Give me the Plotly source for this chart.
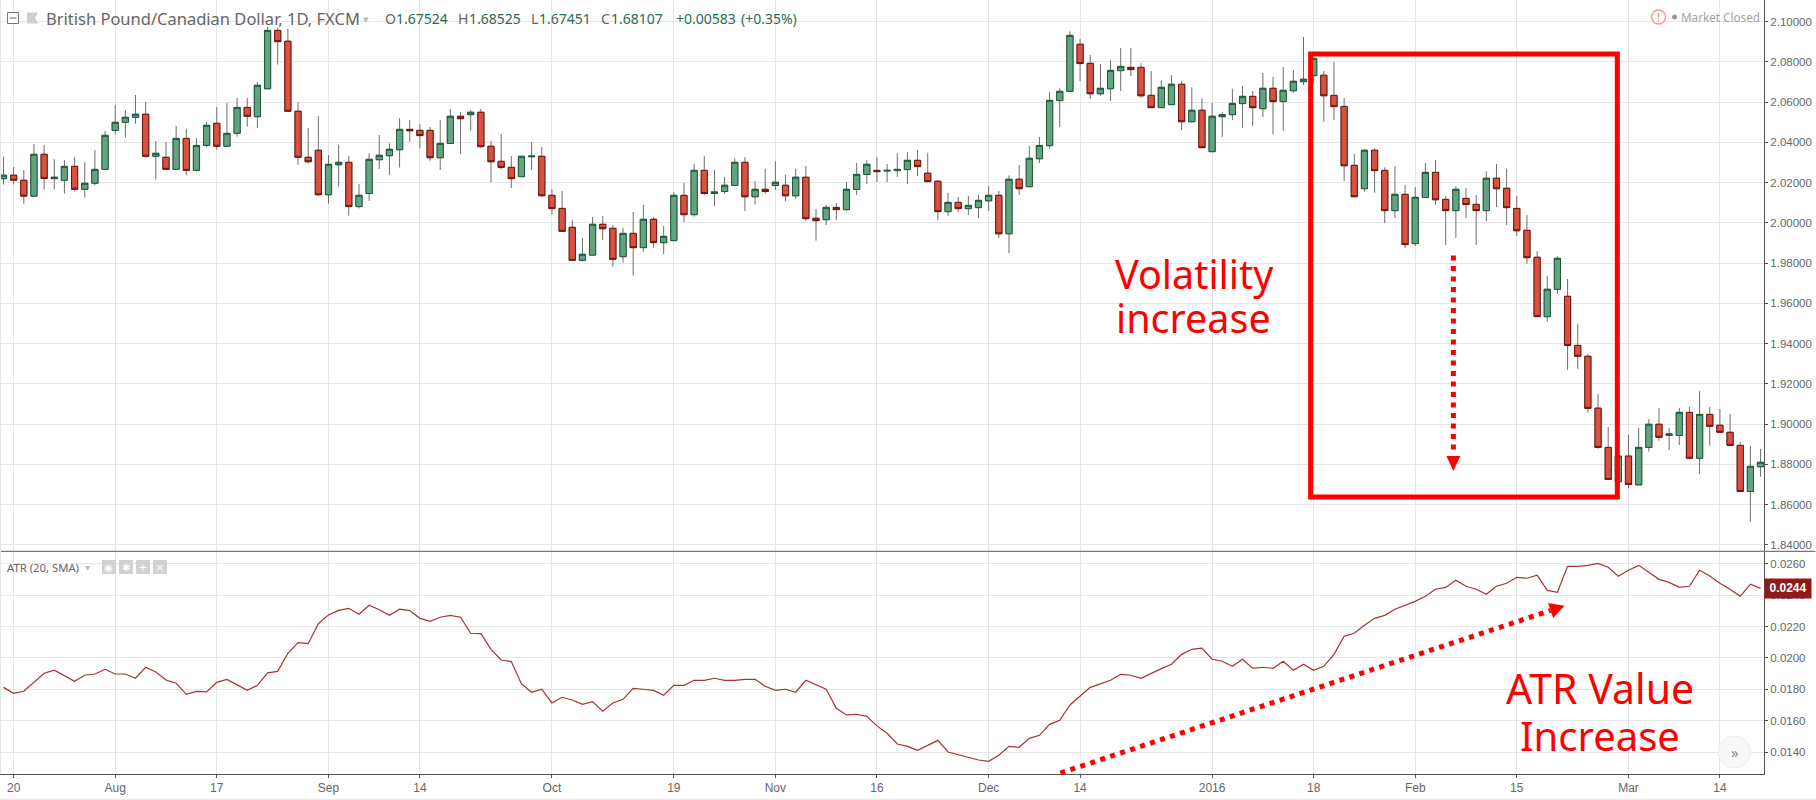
import plotly.graph_objects as go

# one entry per daily candle (left to right)
opens = [
    2.0220, 2.0237, 2.0212, 2.0133, 2.0341, 2.0220, 2.0212, 2.0281, 2.0167, 2.0197,
    2.0266, 2.0460, 2.0500, 2.0525, 2.0540, 2.0331, 2.0326, 2.0266, 2.0420, 2.0261,
    2.0385, 2.0495, 2.0381, 2.0445, 2.0574, 2.0528, 2.0667, 2.0957, 2.0903, 2.0555,
    2.0326, 2.0361, 2.0140, 2.0289, 2.0301, 2.0081, 2.0146, 2.0314, 2.0334, 2.0364,
    2.0465, 2.0460, 2.0460, 2.0324, 2.0395, 2.0530, 2.0538, 2.0550, 2.0381, 2.0306,
    2.0276, 2.0230, 2.0329, 2.0331, 2.0137, 2.0072, 1.9978, 1.9814, 1.9840, 1.9993,
    1.9973, 1.9832, 1.9948, 1.9877, 2.0018, 1.9902, 1.9912, 2.0137, 2.0041, 2.0261,
    2.0146, 2.0156, 2.0186, 2.0301, 2.0130, 2.0167, 2.0186, 2.0187, 2.0135, 2.0227,
    2.0023, 2.0016, 2.0077, 2.0066, 2.0166, 2.0241, 2.0261, 2.0258, 2.0260, 2.0265,
    2.0311, 2.0247, 2.0207, 2.0056, 2.0102, 2.0071, 2.0076, 2.0110, 2.0137, 1.9946,
    2.0217, 2.0180, 2.0319, 2.0384, 2.0608, 2.0654, 2.0888, 2.0793, 2.0642, 2.0667,
    2.0757, 2.0773, 2.0773, 2.0634, 2.0573, 2.0588, 2.0689, 2.0503, 2.0560, 2.0354,
    2.0528, 2.0538, 2.0593, 2.0629, 2.0568, 2.0669, 2.0603, 2.0657, 2.0702, 2.0732,
    2.0734, 2.0634, 2.0579, 2.0286, 2.0170, 2.0361, 2.0261, 2.0061, 2.0142, 1.9897,
    2.0126, 2.0251, 2.0117, 2.0061, 2.0122, 2.0092, 2.0061, 2.0222, 2.0172, 2.0072,
    1.9963, 1.9829, 1.9534, 1.9670, 1.9635, 1.9391, 1.9337, 1.9079, 1.8884, 1.8713,
    1.8841, 1.8698, 1.8884, 1.8999, 1.8944, 1.8944, 1.9058, 1.8830, 1.9048, 1.8994,
    1.8959, 1.8894, 1.8665, 1.8788,
]
highs = [
    2.0329, 2.0278, 2.0263, 2.0392, 2.0387, 2.0317, 2.0312, 2.0327, 2.0302, 2.0362,
    2.0457, 2.0586, 2.0561, 2.0636, 2.0601, 2.0407, 2.0402, 2.0482, 2.0467, 2.0422,
    2.0502, 2.0576, 2.0596, 2.0621, 2.0621, 2.0700, 2.0975, 2.0972, 2.0964, 2.0599,
    2.0472, 2.0531, 2.0337, 2.0387, 2.0332, 2.0193, 2.0346, 2.0437, 2.0395, 2.0521,
    2.0511, 2.0492, 2.0477, 2.0511, 2.0566, 2.0551, 2.0560, 2.0566, 2.0407, 2.0442,
    2.0332, 2.0331, 2.0402, 2.0377, 2.0168, 2.0159, 2.0014, 1.9925, 2.0029, 2.0034,
    1.9989, 1.9975, 2.0054, 2.0089, 2.0029, 1.9985, 2.0154, 2.0198, 2.0293, 2.0332,
    2.0263, 2.0228, 2.0321, 2.0327, 2.0208, 2.0268, 2.0306, 2.0238, 2.0268, 2.0283,
    2.0069, 2.0089, 2.0099, 2.0203, 2.0298, 2.0312, 2.0327, 2.0293, 2.0346, 2.0352,
    2.0362, 2.0347, 2.0213, 2.0149, 2.0129, 2.0134, 2.0139, 2.0183, 2.0159, 2.0236,
    2.0288, 2.0382, 2.0427, 2.0651, 2.0669, 2.0952, 2.0914, 2.0835, 2.0790, 2.0808,
    2.0869, 2.0869, 2.0793, 2.0755, 2.0709, 2.0734, 2.0704, 2.0674, 2.0619, 2.0596,
    2.0550, 2.0666, 2.0681, 2.0656, 2.0745, 2.0725, 2.0775, 2.0760, 2.0924, 2.0818,
    2.0755, 2.0800, 2.0621, 2.0342, 2.0366, 2.0371, 2.0276, 2.0283, 2.0188, 2.0178,
    2.0298, 2.0312, 2.0132, 2.0183, 2.0173, 2.0139, 2.0256, 2.0293, 2.0268, 2.0134,
    2.0039, 1.9860, 1.9736, 1.9835, 1.9721, 1.9497, 1.9347, 1.9149, 1.8985, 1.8850,
    1.8947, 1.8980, 1.9025, 1.9080, 1.8980, 1.9080, 1.9085, 1.9164, 1.9085, 1.9075,
    1.9050, 1.8911, 1.8891, 1.8876,
]
lows = [
    2.0191, 2.0191, 2.0096, 2.0133, 2.0166, 2.0166, 2.0146, 2.0156, 2.0126, 2.0186,
    2.0266, 2.0438, 2.0423, 2.0493, 2.0324, 2.0215, 2.0266, 2.0266, 2.0237, 2.0256,
    2.0376, 2.0364, 2.0381, 2.0429, 2.0478, 2.0472, 2.0664, 2.0787, 2.0555, 2.0289,
    2.0294, 2.0135, 2.0096, 2.0180, 2.0036, 2.0072, 2.0109, 2.0268, 2.0238, 2.0275,
    2.0402, 2.0369, 2.0309, 2.0263, 2.0395, 2.0342, 2.0458, 2.0374, 2.0203, 2.0265,
    2.0173, 2.0230, 2.0263, 2.0130, 2.0044, 1.9958, 1.9814, 1.9807, 1.9837, 1.9915,
    1.9782, 1.9802, 1.9738, 1.9857, 1.9877, 1.9845, 1.9912, 2.0004, 2.0031, 2.0139,
    2.0084, 2.0144, 2.0186, 2.0059, 2.0091, 2.0144, 2.0164, 2.0109, 2.0119, 2.0011,
    1.9912, 1.9989, 2.0014, 2.0061, 2.0139, 2.0193, 2.0203, 2.0203, 2.0228, 2.0193,
    2.0233, 2.0205, 2.0014, 2.0034, 2.0054, 2.0039, 2.0024, 2.0059, 1.9925, 1.9850,
    2.0139, 2.0180, 2.0298, 2.0369, 2.0477, 2.0654, 2.0705, 2.0616, 2.0631, 2.0606,
    2.0656, 2.0730, 2.0622, 2.0573, 2.0573, 2.0588, 2.0462, 2.0498, 2.0374, 2.0354,
    2.0427, 2.0511, 2.0472, 2.0482, 2.0526, 2.0442, 2.0457, 2.0647, 2.0685, 2.0694,
    2.0502, 2.0511, 2.0208, 2.0130, 2.0156, 2.0150, 1.9999, 2.0024, 1.9875, 1.9885,
    2.0126, 2.0091, 1.9890, 1.9925, 2.0024, 1.9890, 2.0009, 2.0079, 1.9989, 1.9935,
    1.9797, 1.9534, 1.9509, 1.9647, 1.9269, 1.9274, 1.9057, 1.8878, 1.8725, 1.8713,
    1.8680, 1.8698, 1.8863, 1.8917, 1.8871, 1.8896, 1.8825, 1.8752, 1.8893, 1.8959,
    1.8888, 1.8665, 1.8515, 1.8738,
]
closes = [
    2.0237, 2.0212, 2.0133, 2.0341, 2.0221, 2.0227, 2.0281, 2.0167, 2.0197, 2.0266,
    2.0435, 2.0500, 2.0525, 2.0540, 2.0331, 2.0346, 2.0266, 2.0420, 2.0261, 2.0385,
    2.0485, 2.0381, 2.0445, 2.0574, 2.0530, 2.0684, 2.0957, 2.0901, 2.0555, 2.0326,
    2.0304, 2.0140, 2.0291, 2.0301, 2.0081, 2.0137, 2.0316, 2.0336, 2.0366, 2.0465,
    2.0458, 2.0434, 2.0324, 2.0395, 2.0530, 2.0518, 2.0550, 2.0379, 2.0304, 2.0276,
    2.0220, 2.0331, 2.0332, 2.0135, 2.0071, 1.9958, 1.9814, 1.9844, 1.9993, 1.9971,
    1.9819, 1.9948, 1.9877, 2.0018, 1.9902, 1.9933, 2.0137, 2.0041, 2.0261, 2.0146,
    2.0154, 2.0187, 2.0301, 2.0130, 2.0167, 2.0156, 2.0202, 2.0135, 2.0227, 2.0021,
    2.0011, 2.0077, 2.0066, 2.0167, 2.0241, 2.0291, 2.0255, 2.0261, 2.0266, 2.0311,
    2.0280, 2.0205, 2.0056, 2.0102, 2.0071, 2.0087, 2.0112, 2.0137, 1.9946, 2.0217,
    2.0170, 2.0321, 2.0385, 2.0609, 2.0654, 2.0932, 2.0792, 2.0642, 2.0669, 2.0758,
    2.0778, 2.0762, 2.0632, 2.0573, 2.0674, 2.0689, 2.0503, 2.0560, 2.0374, 2.0530,
    2.0538, 2.0594, 2.0629, 2.0573, 2.0669, 2.0603, 2.0659, 2.0704, 2.0714, 2.0818,
    2.0632, 2.0578, 2.0284, 2.0130, 2.0361, 2.0260, 2.0061, 2.0142, 1.9892, 2.0127,
    2.0251, 2.0115, 2.0061, 2.0167, 2.0091, 2.0061, 2.0222, 2.0170, 2.0076, 1.9961,
    1.9827, 1.9534, 1.9670, 1.9824, 1.9391, 1.9337, 1.9078, 1.8884, 1.8725, 1.8841,
    1.8700, 1.8884, 1.8999, 1.8934, 1.8951, 1.9058, 1.8830, 1.9048, 1.8989, 1.8959,
    1.8894, 1.8665, 1.8790, 1.8810,
]
atr = [
    .01813, .01775, .01788, .01847, .01903, .01922, .01886, .01852, .01890, .01898,
    .01928, .01898, .01898, .01871, .01941, .01911, .01860, .01839, .01769, .01788,
    .01784, .01845, .01864, .01830, .01794, .01826, .01905, .01915, .02030, .02098,
    .02091, .02218, .02274, .02303, .02316, .02278, .02335, .02307, .02271, .02310,
    .02301, .02252, .02233, .02259, .02271, .02259, .02157, .02155, .02055, .01987,
    .01977, .01835, .01782, .01801, .01714, .01750, .01733, .01705, .01722, .01661,
    .01714, .01737, .01807, .01801, .01794, .01763, .01826, .01826, .01858, .01858,
    .01871, .01858, .01858, .01864, .01864, .01820, .01794, .01801, .01782, .01858,
    .01828, .01801, .01680, .01638, .01642, .01629, .01568, .01521, .01453, .01438,
    .01413, .01445, .01476, .01402, .01385, .01370, .01351, .01343, .01381, .01438,
    .01432, .01489, .01508, .01578, .01604, .01701, .01754, .01813, .01835, .01858,
    .01896, .01890, .01871, .01903, .01932, .01960, .02023, .02055, .02062, .01992,
    .01979, .01947, .01992, .01934, .01941, .01934, .01979, .01922, .01960, .01922,
    .01947, .02023, .02138, .02157, .02208, .02252, .02271, .02310, .02335, .02360,
    .02392, .02437, .02449, .02494, .02456, .02437, .02405, .02456, .02475, .02513,
    .02507, .02526, .02430, .02418, .02583, .02583, .02589, .02602, .02577, .02519,
    .02558, .02589, .02545, .02500, .02481, .02449, .02456, .02558, .02522, .02475,
    .02437, .02392, .02469, .02443,
]
price_ticks = [2.10, 2.08, 2.06, 2.04, 2.02, 2.00, 1.98, 1.96, 1.94, 1.92, 1.90, 1.88, 1.86, 1.84]
atr_ticks = [0.026, 0.024, 0.022, 0.020, 0.018, 0.016, 0.014]
date_ticks = [1, 11, 21, 32, 41, 54, 66, 76, 86, 97, 106, 119, 129, 139, 149, 160, 169]
date_labels = ['20', 'Aug', '17', 'Sep', '14', 'Oct', '19', 'Nov', '16', 'Dec', '14', '2016', '18', 'Feb', '15', 'Mar', '14']

W, H = 1816, 800
PLOT_W, PLOT_H = 1764.5, 774
GRID = '#e6e6e6'
AXIS = '#555555'
TEXT = '#666666'
VALUE = '#2e6b50'
RED = '#ff0000'
ARROW_DASH = '5px,5.5px'


def px(x):
    return x / PLOT_W


def py(y):
    return 1 - y / PLOT_H


def paper_shape(kind, x0, y0, x1, y1, **kw):
    return dict(type=kind, xref='paper', yref='paper', x0=px(x0), y0=py(y0), x1=px(x1), y1=py(y1), **kw)


def polygon(points, color):
    path = 'M ' + ' L '.join('{} {}'.format(px(x), py(y)) for x, y in points) + ' Z'
    return dict(type='path', xref='paper', yref='paper', path=path, fillcolor=color, line=dict(width=0))


def label(x, y, text, size=14, color=TEXT, family='Noto Sans', anchor='left', **kw):
    return dict(xref='paper', yref='paper', x=px(x), y=py(y), text=text, showarrow=False, xanchor=anchor, yanchor='middle', align=anchor,
                font=dict(family=family, size=size, color=color), borderpad=0, **kw)


xs = list(range(len(closes)))
body_high = [max(o, c) for o, c in zip(opens, closes)]
body_low = [min(o, c) for o, c in zip(opens, closes)]

fig = go.Figure()
# wicks are grey in the original, so they get their own candlestick under the bodies
fig.add_trace(go.Candlestick(x=xs, open=opens, high=highs, low=lows, close=closes, xaxis='x', yaxis='y', whiskerwidth=0,
                             increasing=dict(line=dict(color='#6e6e6e', width=1), fillcolor='#6e6e6e'),
                             decreasing=dict(line=dict(color='#6e6e6e', width=1), fillcolor='#6e6e6e')))
fig.add_trace(go.Candlestick(x=xs, open=opens, high=body_high, low=body_low, close=closes, xaxis='x', yaxis='y', whiskerwidth=0,
                             increasing=dict(line=dict(color='#1f5a3c', width=1), fillcolor='#63a480'),
                             decreasing=dict(line=dict(color='#6f1610', width=1), fillcolor='#d9513f')))
fig.add_trace(go.Scatter(x=xs, y=atr, mode='lines', xaxis='x2', yaxis='y2', line=dict(color='#a83232', width=1.2)))

shapes = [
    # panel separator, right axis foot and the strip under the date axis
    paper_shape('line', 1, 551.3, W, 551.3, line=dict(color=AXIS, width=1)),
    paper_shape('line', 0, 799.3, W, 799.3, line=dict(color=GRID, width=1)),
    paper_shape('line', 0.5, 0, 0.5, PLOT_H, line=dict(color=GRID, width=1)),
    # annotations drawn on the chart
    paper_shape('rect', 1311, 54, 1617.8, 497, line=dict(color=RED, width=5)),
    paper_shape('line', 1453.8, 255.6, 1453.8, 455, line=dict(color=RED, width=5, dash=ARROW_DASH)),
    polygon([(1446.8, 456), (1460.8, 456), (1453.8, 471)], RED),
    paper_shape('line', 1060.7, 773, 1551, 610.5, line=dict(color=RED, width=5, dash=ARROW_DASH)),
    polygon([(1548.5, 603), (1553.6, 618), (1565, 605.7)], RED),
    # header icons
    paper_shape('rect', 7.5, 12.5, 18.5, 23.5, line=dict(color='#777777', width=1), fillcolor='white'),
    paper_shape('line', 9.5, 18, 16.5, 18, line=dict(color='#777777', width=1)),
    polygon([(27, 12.5), (38, 12.5), (35, 18), (38, 23.5), (27, 23.5)], '#cfcfcf'),
    paper_shape('circle', 1652, 10, 1666, 24, line=dict(color='#f49a9a', width=1.5), fillcolor='white'),
    paper_shape('circle', 1672.5, 14.5, 1677.5, 19.5, line=dict(width=0), fillcolor='#999999'),
    # bottom right scroll button
    paper_shape('circle', 1719, 736, 1751, 768, line=dict(color='#ececec', width=1), fillcolor='#f9f9f9'),
]
for x0 in [102, 119, 136, 153]:
    shapes.append(paper_shape('rect', x0, 560, x0 + 14, 574, line=dict(width=0), fillcolor='#d2d2d2'))

annotations = [
    label(45, 18, 'British Pound/Canadian Dollar, 1D, FXCM', size=16.5),
    label(362, 18.5, '▾', size=11, color='#bbbbbb'),
    label(1680, 17.5, 'Market Closed', size=11.7, color='#a3a3a3'),
    label(1659, 17, '!', size=12, color='#f07f7f', anchor='center'),
    label(6.5, 567, 'ATR (20, SMA)', size=11.3),
    label(88, 567, '▾', size=10, color='#bbbbbb', anchor='center'),
    label(109, 567, '◉', size=10, color='white', anchor='center'),
    label(126, 567, '✱', size=10, color='white', anchor='center'),
    label(143, 567, '+', size=13, color='white', anchor='center', family='Liberation Sans'),
    label(160, 567, '×', size=13, color='white', anchor='center', family='Liberation Sans'),
    label(1735, 752, '»', size=15, color='#8a8a8a', anchor='center'),
    label(1195, 274, 'Volatility', size=39.5, color=RED, anchor='center'),
    label(1194, 318, 'increase', size=39.5, color=RED, anchor='center'),
    label(1600, 688, 'ATR Value', size=41, color=RED, anchor='center'),
    label(1600, 735, 'Increase', size=40, color=RED, anchor='center'),
    dict(xref='paper', yref='y2', x=px(1765), y=atr[-1], text='<b>{:.4f}</b>'.format(atr[-1]), showarrow=False, xanchor='left', yanchor='middle',
         width=44, height=16.7, bgcolor='#8e1a1a', font=dict(family='Liberation Sans', size=12, color='white')),
]
for x, text, color in [
    (384, 'O', TEXT), (395.3, '1.67524', VALUE), (457, 'H', TEXT), (468, '1.68525', VALUE), (530, 'L', TEXT), (538.5, '1.67451', VALUE),
    (600, 'C', TEXT), (610, '1.68107', VALUE), (675, '+0.00583', VALUE), (740, '(+0.35%)', VALUE),
]:
    annotations.append(label(x, 18, text, size=14, color=color))

fig.update_layout(
    width=W, height=H, margin=dict(l=0, r=W - PLOT_W, t=0, b=H - PLOT_H), paper_bgcolor='white', plot_bgcolor='white',
    showlegend=False, boxmode='overlay', boxgap=0.13, boxgroupgap=0.3, shapes=shapes, annotations=annotations, hovermode=False,
    font=dict(family='Liberation Sans', color=TEXT),
    xaxis=dict(domain=[0, 1], range=[-0.344, 173.34], anchor='y', tickvals=date_ticks, showticklabels=False, ticks='', showgrid=True, gridcolor=GRID, gridwidth=1, zeroline=False, rangeslider=dict(visible=False)),
    xaxis2=dict(domain=[0, 1], matches='x', anchor='y2', tickvals=date_ticks, ticktext=date_labels, ticks='outside', ticklen=3, tickcolor=AXIS, tickfont=dict(family='Liberation Sans', size=12, color=TEXT),
                showgrid=True, gridcolor=GRID, gridwidth=1, zeroline=False, showline=True, linecolor=AXIS, linewidth=1, rangeslider=dict(visible=False)),
    yaxis=dict(domain=[223 / PLOT_H, 1], range=[1.8369, 2.1108], side='right', anchor='x', tickvals=price_ticks, tickformat='.5f', ticks='outside', ticklen=3, tickcolor=AXIS,
               tickfont=dict(family='Liberation Sans', size=11.5, color=TEXT), showgrid=True, gridcolor=GRID, gridwidth=1, zeroline=False, showline=True, linecolor=AXIS, linewidth=1),
    yaxis2=dict(domain=[0, 222 / PLOT_H], range=[0.01262, 0.02674], side='right', anchor='x2', tickvals=atr_ticks, tickformat='.4f', ticks='outside', ticklen=3, tickcolor=AXIS,
                tickfont=dict(family='Liberation Sans', size=11.5, color=TEXT), showgrid=True, gridcolor=GRID, gridwidth=1, zeroline=False, showline=True, linecolor=AXIS, linewidth=1),
)

fig.write_html("out.html", config=dict(displayModeBar=False), post_script="document.body.style.margin='0';document.body.style.overflow='hidden';")
